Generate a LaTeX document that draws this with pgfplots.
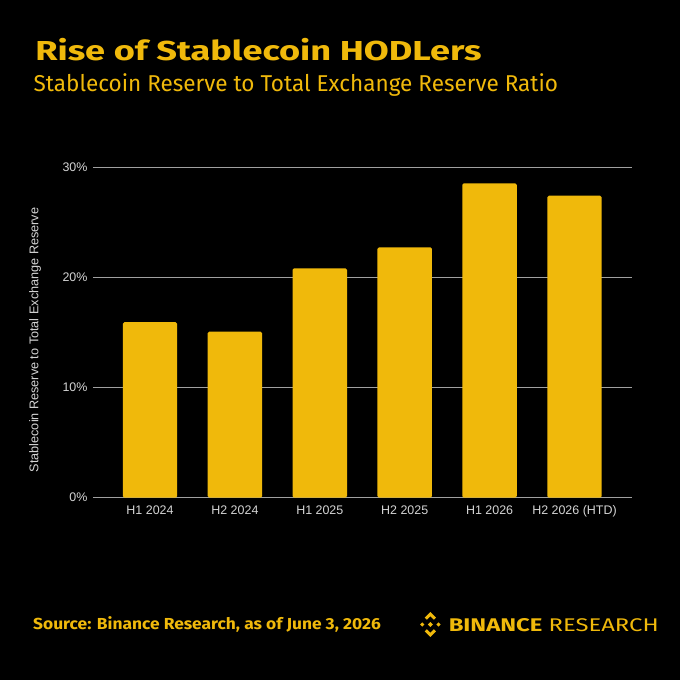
\documentclass[border=0pt]{standalone}
\usepackage{pgfplots}
\pgfplotsset{compat=1.18}
\usepackage{fontspec}
\setmainfont{Liberation Sans}
\newfontfamily\plex{Fira Sans}
\definecolor{bnb}{HTML}{F0B90B}
\definecolor{ticktext}{HTML}{D4D4D4}
\definecolor{gridc}{HTML}{A0A0A0}
\begin{document}
\begin{tikzpicture}
\fill[black] (0,0) rectangle (680bp,680bp);
\useasboundingbox (0,0) rectangle (680bp,680bp);
\begin{axis}[
  at={(93.3bp,182.3bp)}, anchor=south west,
  scale only axis, width=538.4bp, height=330bp,
  xmin=-0.668, xmax=5.674, ymin=0, ymax=30,
  ytick={0,10,20,30}, yticklabels={0\%,10\%,20\%,30\%},
  xtick={0,1,2,3,4,5},
  xticklabels={H1 2024,H2 2024,H1 2025,H2 2025,H1 2026,H2 2026 (HTD)},
  axis line style={draw=none}, major tick length=0pt,
  ymajorgrids, grid style={draw=gridc, line width=0.9bp},
  tick label style={font=\fontsize{12.5}{14}\selectfont, text=ticktext},
  yticklabel style={xshift=-2.3bp},
  xticklabel style={yshift=-4.3bp},
]
\addplot[ybar, bar width=54.4bp, fill=bnb, draw=none, rounded corners=1.5bp]
  coordinates {(0,15.95) (1,15.09) (2,20.85) (3,22.76) (4,28.58) (5,27.45)};
\end{axis}
\node[rotate=90, inner sep=0pt, font=\fontsize{12.7}{14}\selectfont, text=ticktext] at (35bp,340bp) {Stablecoin Reserve to Total Exchange Reserve};
\node[anchor=base west, inner sep=0pt, xscale=1.32, font=\plex\bfseries\fontsize{27.5}{30}\selectfont, text=bnb] at (35bp,619bp) {Rise of Stablecoin HODLers};
\node[anchor=base west, inner sep=0pt, xscale=0.983, font=\plex\fontsize{23}{26}\selectfont, text=bnb] at (33.5bp,588.5bp) {Stablecoin Reserve to Total Exchange Reserve Ratio};
\node[anchor=base west, inner sep=0pt, xscale=1.09, font=\plex\bfseries\fontsize{16}{18}\selectfont, text=bnb] at (33bp,50.7bp) {Source: Binance Research, as of June 3, 2026};
\begin{scope}[shift={(430.3bp,55.5bp)}, x=12.5bp, y=12.5bp]
  \fill[bnb] (0,0.2)--(0.2,0)--(0,-0.2)--(-0.2,0)--cycle;
  \fill[bnb] (-0.65,0.17)--(-0.48,0)--(-0.65,-0.17)--(-0.82,0)--cycle;
  \fill[bnb] (0.65,0.17)--(0.82,0)--(0.65,-0.17)--(0.48,0)--cycle;
  \fill[bnb] (0,1)--(0.45,0.55)--(0.28,0.38)--(0,0.66)--(-0.28,0.38)--(-0.45,0.55)--cycle;
  \fill[bnb] (0,-1)--(0.45,-0.55)--(0.28,-0.38)--(0,-0.66)--(-0.28,-0.38)--(-0.45,-0.55)--cycle;
\end{scope}
\node[anchor=base west, inner sep=0pt, xscale=1.3, font=\plex\fontsize{18.4}{22}\selectfont, text=bnb] at (448.5bp,48.5bp) {\textbf{BINANCE} RESEARCH};
\end{tikzpicture}
\end{document}
